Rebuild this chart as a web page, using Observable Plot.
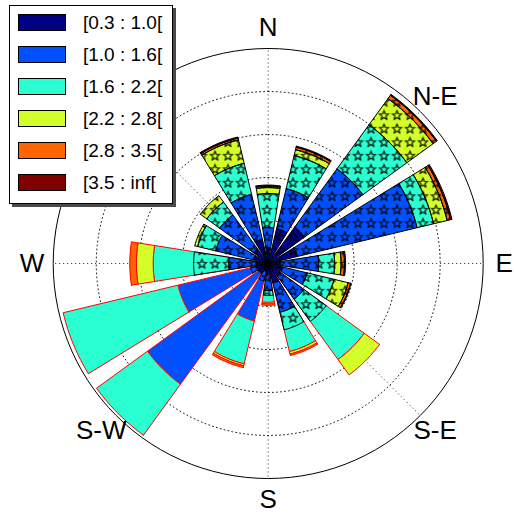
<!DOCTYPE html>
<html><head><meta charset="utf-8">
<script src="https://cdn.jsdelivr.net/npm/d3@7"></script>
<script src="https://cdn.jsdelivr.net/npm/@observablehq/plot@0.6"></script>
<style>
body{margin:0;background:#fff;font-family:"Liberation Sans",Arial,sans-serif;}
#wrap{position:relative;width:514px;height:518px;overflow:hidden;}
#legend{position:absolute;left:9px;top:5px;width:162px;height:197px;border:1px solid #000;background:#fff;box-shadow:3px 3px 0 #4a4a4a;}
.item{position:absolute;left:8px;height:17px;width:150px;}
.sw{position:absolute;left:0;top:0;width:46px;height:15px;border:1px solid #000;}
.lab{position:absolute;left:65px;top:0;height:17px;line-height:17px;font-size:19px;white-space:nowrap;color:#000;}
</style></head><body><div id="wrap"></div>
<script>
// ---- data ----
const directions = ["N","NNE","NE","ENE","E","ESE","SE","SSE","S","SSW","SW","WSW","W","WNW","NW","NNW"];
const directionAngles = [0,22.5,45,67.5,90,112.5,135,157.5,180,202.5,225,247.5,270,292.5,315,337.5];
const bins = ["[0.3 : 1.0[","[1.0 : 1.6[","[1.6 : 2.2[","[2.2 : 2.8[","[2.8 : 3.5[","[3.5 : inf["];
const binColors = ["#000084","#0050ff","#2affd2","#d2ff2a","#ff6400","#800000"];
// frequency (%) per speed class, hatched (star) rose, one row per direction
const starredN   = [0.74,0.93,1.58,0.28,0.07,0.05];
const starredNNE = [1.67,1.91,1.58,0.28,0.12,0.05];
const starredNE  = [2.09,3.35,2.53,1.51,0.19,0.05];
const starredENE = [1.40,5.72,0.79,0.65,0.16,0.07];
const starredE   = [0.56,1.79,0.74,0.30,0.16,0.05];
const starredESE = [0.70,1.16,1.29,0.67,0.12,0.02];
const starredSE  = [0.70,1.35,1.28,0,0,0];
const starredSSE = [0.93,1.40,0.84,0,0,0];
const starredS   = [0.47,0.79,0.23,0,0,0];
const starredSSW = [0.37,0.47,0,0,0,0];
const starredSW  = [0.56,0,0,0,0,0];
const starredWSW = [0.56,0.28,0,0,0,0];
const starredW   = [0.56,1.28,1.63,0,0,0];
const starredWNW = [0.70,1.81,0.86,0.14,0,0];
const starredNW  = [0.84,1.95,0.74,0.37,0,0];
const starredNNW = [1.16,2.14,1.49,1.12,0.09,0.05];
// plain (red-edged) rose
const plainSE  = [0.47,1.40,3.65,0.88,0,0];
const plainSSE = [0.56,1.53,2.12,0.12,0.07,0];
const plainS   = [0.37,0.88,0.56,0.07,0.07,0];
const plainSSW = [0.47,2.28,2.05,0.09,0.09,0];
const plainSW  = [0.47,6.47,2.93,0,0,0];
const plainWSW = [0.37,3.95,5.49,0,0,0];
const plainW   = [0.47,1.35,3.53,0.78,0.31,0];
const ringValues = [2,4,6,8];
const outerValue = 10;
const spokeAngles = [0,45,90,135,180,225,270,315];
const compassLabels = ["N","N-E","E","S-E","S","S-W","W"];
const compassAngles = [0,45,90,135,180,225,270];

const starred = {N:starredN,NNE:starredNNE,NE:starredNE,ENE:starredENE,E:starredE,ESE:starredESE,SE:starredSE,SSE:starredSSE,S:starredS,SSW:starredSSW,SW:starredSW,WSW:starredWSW,W:starredW,WNW:starredWNW,NW:starredNW,NNW:starredNNW};
const plain = {SE:plainSE,SSE:plainSSE,S:plainS,SSW:plainSSW,SW:plainSW,WSW:plainWSW,W:plainW};

// ---- geometry helpers ----
const rad = d => d * Math.PI / 180;
const halfWidth = 9, steps = 12;
function wedgePoints(table, series) {
  const pts = [];
  directions.forEach((dir, i) => {
    const row = table[dir]; if (!row) return;
    const theta = directionAngles[i];
    let r0 = 0;
    row.forEach((f, k) => {
      if (!(f > 0)) return;
      const r1 = r0 + f, id = `${series}-${i}-${k}`;
      const poly = [];
      for (let s = 0; s <= steps; s++) {
        const a = rad(theta - halfWidth + 2 * halfWidth * s / steps);
        poly.push([r1 * Math.sin(a), r1 * Math.cos(a)]);
      }
      if (r0 > 0) {
        for (let s = steps; s >= 0; s--) {
          const a = rad(theta - halfWidth + 2 * halfWidth * s / steps);
          poly.push([r0 * Math.sin(a), r0 * Math.cos(a)]);
        }
      } else poly.push([0, 0]);
      poly.push(poly[0]);
      poly.forEach(([x, y]) => pts.push({id, x, y, bin: k}));
      r0 = r1;
    });
  });
  return pts;
}
function circlePoints(values) {
  const pts = [];
  values.forEach(r => { for (let a = 0; a <= 360; a += 3) pts.push({r, x: r * Math.sin(rad(a)), y: r * Math.cos(rad(a))}); });
  return pts;
}
const plainPts = wedgePoints(plain, "p");
const starPts = wedgePoints(starred, "s");
const spokes = spokeAngles.map(a => ({x2: outerValue * Math.sin(rad(a)), y2: outerValue * Math.cos(rad(a))}));
const labelR = 10.98;
const labels = compassLabels.map((t, i) => ({t, x: labelR * Math.sin(rad(compassAngles[i])), y: labelR * Math.cos(rad(compassAngles[i]))}));

const W = 514, H = 518, cx = 267.7, cy = 263, ppu = 21.5;
const marks = [
  Plot.line(circlePoints(ringValues), {x: "x", y: "y", z: "r", stroke: "#222", strokeWidth: 1, strokeDasharray: "1 3"}),
  Plot.link(spokes, {x1: 0, y1: 0, x2: "x2", y2: "y2", stroke: "#222", strokeWidth: 1, strokeDasharray: "1 3"}),
  Plot.line(circlePoints([outerValue]), {x: "x", y: "y", z: "r", stroke: "#000", strokeWidth: 1})
];
bins.forEach((b, k) => {
  marks.push(Plot.line(plainPts.filter(d => d.bin === k), {x: "x", y: "y", z: "id", fill: binColors[k], stroke: "#ff0000", strokeWidth: 1, strokeLinejoin: "miter"}));
});
bins.forEach((b, k) => {
  marks.push(Plot.line(starPts.filter(d => d.bin === k), {x: "x", y: "y", z: "id", fill: binColors[k], stroke: "none"}));
});
marks.push(Plot.line(starPts, {x: "x", y: "y", z: "id", fill: "url(#stars)", stroke: "none"}));
marks.push(Plot.line(starPts, {x: "x", y: "y", z: "id", fill: "none", stroke: "#000", strokeWidth: 1, strokeLinejoin: "miter"}));
marks.push(Plot.text(labels, {x: "x", y: "y", text: "t", fontSize: 26, fill: "#000"}));

const chart = Plot.plot({
  width: W, height: H, margin: 0,
  x: {domain: [-cx / ppu, (W - cx) / ppu], axis: null},
  y: {domain: [-(H - cy) / ppu, cy / ppu], axis: null},
  style: {fontFamily: '"Liberation Sans", Arial, sans-serif', background: "#fff"},
  marks
});
// star hatch pattern
const starPath = d3.range(10).map(i => {
  const r = i % 2 ? 2.1 : 4.8, a = rad(i * 36);
  return [6.5 + r * Math.sin(a), 7 - r * Math.cos(a)];
});
const defs = d3.select(chart).insert("defs", ":first-child");
const pat = defs.append("pattern").attr("id", "stars").attr("patternUnits", "userSpaceOnUse").attr("width", 13).attr("height", 13.5);
pat.append("path").attr("d", "M" + starPath.map(p => p.join(",")).join("L") + "Z").attr("fill", "none").attr("stroke", "#000").attr("stroke-width", 1.1);

const wrap = document.getElementById("wrap");
wrap.appendChild(chart);
const legend = document.createElement("div");
legend.id = "legend";
bins.forEach((b, k) => {
  const it = document.createElement("div");
  it.className = "item";
  it.style.top = (8 + k * 32) + "px";
  it.innerHTML = `<div class="sw" style="background:${binColors[k]}"></div><div class="lab">${b}</div>`;
  legend.appendChild(it);
});
wrap.appendChild(legend);
</script></body></html>
